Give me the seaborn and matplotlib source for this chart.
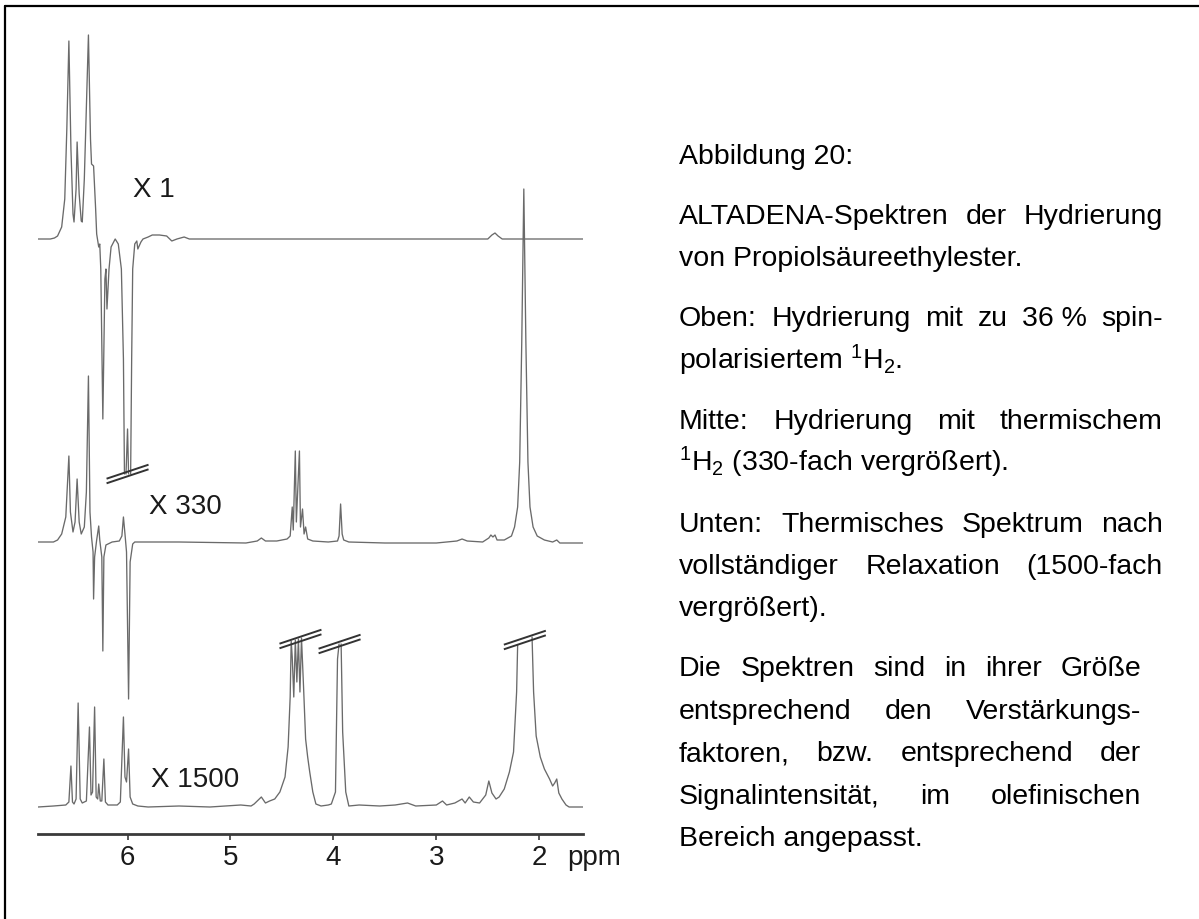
import numpy as np
import pandas as pd
import matplotlib
matplotlib.use("Agg")
import matplotlib.pyplot as plt
import seaborn as sns
from matplotlib.lines import Line2D

sns.set_theme(style="white")
plt.rcParams['font.family'] = ['Liberation Sans', 'DejaVu Sans']
plt.rcParams['mathtext.fontset'] = 'custom'
plt.rcParams['mathtext.rm'] = 'Liberation Sans'
plt.rcParams['mathtext.it'] = 'Liberation Sans:italic'

NAN = np.nan
# ---------------- data (ppm, intensity); NaN = trace cut off (break mark) -------------
top_ppm = [6.87, 6.75, 6.71, 6.68, 6.64, 6.61, 6.59, 6.57, 6.55, 6.53, 6.52, 6.50, 6.49, 6.47,
           6.45, 6.44, 6.42, 6.38, 6.36, 6.35, 6.33, 6.31, 6.30, 6.28, 6.27, 6.26, 6.24, 6.22,
           6.21, 6.20, 6.18, 6.16, 6.12, 6.09, 6.06, 6.04, 6.03, 6.02, 6.015, 6.00, 5.99,
           5.975, 5.97, 5.96, 5.95, 5.93, 5.91, 5.90, 5.87, 5.85, 5.80, 5.76, 5.69, 5.62, 5.57,
           5.52, 5.45, 5.40, 4.50, 3.50, 2.50, 2.46, 2.43, 2.40, 2.36, 1.57]
top_int = [0, 0, 1, 3, 12, 40, 110, 198, 90, 25, 17, 50, 97, 45,
           18, 17, 60, 204, 100, 75, 73, 30, 5, -8, -5, -30, -180, -40,
           -30, -70, -30, -8, 0, -5, -30, -120, -235, NAN, -235, -190, -235,
           NAN, -235, -120, -30, -5, -2, -10, -3, 0, 2, 4, 4, 3, -2,
           0, 2, 0, 0, 0, 0, 4, 6, 3, 0, 0]

mid_ppm = [6.87, 6.72, 6.68, 6.64, 6.60, 6.57, 6.555, 6.53, 6.51, 6.49, 6.47, 6.45, 6.42, 6.40,
           6.38, 6.365, 6.35, 6.335, 6.33, 6.32, 6.30, 6.28, 6.27, 6.25, 6.24, 6.23, 6.21, 6.15,
           6.08, 6.055, 6.04, 6.025, 6.01, 5.99, 5.975, 5.95, 5.93, 5.50, 4.85, 4.74, 4.70, 4.66,
           4.55, 4.45, 4.42, 4.40, 4.39, 4.37, 4.36, 4.33, 4.32, 4.30, 4.285, 4.27, 4.25, 4.20,
           4.05, 3.96, 3.945, 3.93, 3.915, 3.90, 3.85, 3.50, 3.00, 2.80, 2.75, 2.70, 2.55, 2.49,
           2.47, 2.45, 2.43, 2.41, 2.34, 2.27, 2.24, 2.21, 2.19, 2.17, 2.15, 2.13, 2.11, 2.09,
           2.06, 2.02, 1.95, 1.87, 1.83, 1.80, 1.57]
mid_int = [0, 0, 2, 8, 25, 86, 30, 10, 20, 63, 20, 8, 15, 50,
           166, 30, 5, -10, -57, -15, 2, 16, 2, -15, -109, -15, -3, 0,
           1, 6, 25, 8, -10, -157, -20, -2, 0, 0, -1, 1, 4, 1,
           1, 3, 6, 35, 12, 91, 20, 91, 15, 33, 8, 15, 3, 1,
           0, 1, 6, 38, 8, 2, 0, -1, -1, 1, 3, 1, 0, 4,
           7, 5, 7, 2, 2, 6, 15, 35, 80, 200, 353, 200, 80, 35,
           15, 6, 2, 0, 2, -1, -1]

bot_ppm = [6.87, 6.72, 6.60, 6.57, 6.55, 6.535, 6.52, 6.50, 6.48, 6.46, 6.44, 6.40, 6.37, 6.355,
           6.34, 6.32, 6.305, 6.29, 6.28, 6.265, 6.25, 6.23, 6.215, 6.19, 6.10, 6.07, 6.04, 6.025,
           6.01, 5.99, 5.975, 5.95, 5.90, 5.80, 5.50, 5.20, 4.90, 4.80, 4.77, 4.70, 4.66, 4.62,
           4.57, 4.52, 4.47, 4.44, 4.42, 4.41, 4.40, 4.385, 4.37, 4.355, 4.34, 4.325, 4.31, 4.29,
           4.27, 4.25, 4.23, 4.20, 4.17, 4.12, 4.05, 4.02, 3.98, 3.96, 3.945, 3.935, 3.925, 3.91,
           3.88, 3.85, 3.75, 3.55, 3.40, 3.28, 3.20, 3.00, 2.94, 2.90, 2.82, 2.75, 2.72, 2.68,
           2.64, 2.58, 2.52, 2.49, 2.46, 2.42, 2.39, 2.34, 2.29, 2.25, 2.22, 2.21, 2.14, 2.07,
           2.055, 2.03, 1.99, 1.95, 1.90, 1.87, 1.85, 1.83, 1.81, 1.78, 1.74, 1.71, 1.57]
bot_int = [0, 1, 2, 5, 41, 5, 3, 8, 104, 8, 4, 6, 80, 12,
           15, 100, 10, 8, 23, 6, 6, 48, 5, 2, 2, 5, 90, 30,
           25, 58, 10, 3, 1, 0, 1, 0, 2, 1, 3, 10, 4, 6,
           8, 15, 30, 60, 110, 166, 150, 110, 167, 125, 168, 115, 169, 120,
           68, 50, 35, 15, 3, 1, 2, 3, 15, 148, 163, NAN, 163, 75,
           15, 1, 2, 1, 2, 4, 1, 2, 6, 2, 4, 8, 4, 10,
           5, 4, 12, 26, 14, 8, 10, 18, 35, 55, 115, 162, NAN, 170,
           115, 71, 50, 38, 28, 21, 24, 28, 14, 8, 2, 0, 0]

scale_labels = ["X 1", "X 330", "X 1500"]
tick_values = [6, 5, 4, 3, 2]
tick_labels = ["6", "5", "4", "3", "2"]
unit_label = "ppm"
# cut-off (break mark) positions: (spectrum index, ppm, intensity level)
cut_spec = [0, 2, 2, 2]
cut_ppm = [6.00, 4.32, 3.94, 2.14]
cut_level = [-235, 168, 163, 167]

caption_lines = [
    "Abbildung 20:",
    "ALTADENA-Spektren der Hydrierung",
    "von Propiolsäureethylester.",
    "Oben: Hydrierung mit zu 36\u00a0% spin-",
    "polarisiertem $^{1}$H$_{2}$.",
    "Mitte: Hydrierung mit thermischem",
    "$^{1}$H$_{2}$ (330-fach vergrößert).",
    "Unten: Thermisches Spektrum nach",
    "vollständiger Relaxation (1500-fach",
    "vergrößert).",
    "Die Spektren sind in ihrer Größe",
    "entsprechend den Verstärkungs-",
    "faktoren, bzw. entsprechend der",
    "Signalintensität, im olefinischen",
    "Bereich angepasst.",
]
caption_justify = [False, True, False, True, False, True, False, True, True, False,
                   True, True, True, True, False]
caption_para = [0, 1, 1, 2, 2, 3, 3, 4, 4, 4, 5, 5, 5, 5, 5]

# ---------------- layout ----------------
W, H = 1199, 920
fig = plt.figure(figsize=(W / 100, H / 100), dpi=100)
fig.patch.set_facecolor("white")

ax_l, ax_r, ax_b, ax_t = 38, 583, 835, 20
ax = fig.add_axes([ax_l / W, 1 - ax_b / H, (ax_r - ax_l) / W, (ax_b - ax_t) / H])
ax.set_facecolor("none")
baselines = [595, 292, 27]
line_col = "#6a6a6a"

for ppm, inten, base in zip([top_ppm, mid_ppm, bot_ppm], [top_int, mid_int, bot_int], baselines):
    df = pd.DataFrame({"ppm": ppm, "I": inten})
    df["seg"] = df["I"].isna().cumsum()
    df = df.dropna()
    df["y"] = df["I"] + base
    sns.lineplot(data=df, x="ppm", y="y", units="seg", estimator=None, sort=False,
                 color=line_col, lw=0.95, ax=ax, legend=False)

# break marks
half_dx = 21 / 103.0
half_dy = 7
sep = 2.3
for s, p, lev in zip(cut_spec, cut_ppm, cut_level):
    y0 = baselines[s] + lev
    for o in (-sep, sep):
        ax.plot([p + half_dx, p - half_dx], [y0 - half_dy + o, y0 + half_dy + o],
                color="#333333", lw=1.4, solid_capstyle="butt")

# scale labels
lab_ppm = [5.95, 5.79, 5.77]
lab_y = [645, 328, 55]
for t, px, py in zip(scale_labels, lab_ppm, lab_y):
    ax.text(px, py, t, fontsize=20, ha="left", va="center", color="#1a1a1a")

ax.set_xlim(6.87, 1.575)
ax.set_ylim(0, ax_b - ax_t)
for sp in ["left", "right", "top"]:
    ax.spines[sp].set_visible(False)
ax.spines["bottom"].set_color("#3a3a3a")
ax.spines["bottom"].set_linewidth(2.0)
ax.set_yticks([])
ax.set_xticks(tick_values)
ax.set_xticklabels(tick_labels)
ax.tick_params(axis="x", direction="out", length=4, width=1.2, color="#3a3a3a",
               pad=3, labelsize=20, labelcolor="#1a1a1a", bottom=True)
ax.set_xlabel("")
ax.set_ylabel("")
ax.annotate(unit_label, xy=(1.73, 0), xycoords="data", xytext=(0, -7),
            textcoords="offset points", ha="left", va="top", fontsize=20, color="#1a1a1a",
            annotation_clip=False)

# border (top and left edges visible)
fig.add_artist(Line2D([5 / W, 5 / W], [0, 1 - 7 / H], transform=fig.transFigure,
                      color="black", lw=1.6))
fig.add_artist(Line2D([5 / W, 1], [1 - 7 / H, 1 - 7 / H], transform=fig.transFigure,
                      color="black", lw=1.6))

# caption (justified)
renderer = fig.canvas.get_renderer()
cap_x0 = 679
cap_x1_main = 1163
cap_x1_last = 1141
y_first = 155
line_step = 42.5
para_extra = 17.5
fs = 20.5
for i, (txt, just, para) in enumerate(zip(caption_lines, caption_justify, caption_para)):
    yc = y_first + i * line_step + para * para_extra
    yb = 1 - (yc + 9) / H
    x1 = cap_x1_last if para == 5 else cap_x1_main
    words = txt.split(" ")
    if not just or len(words) == 1:
        fig.text(cap_x0 / W, yb, txt, fontsize=fs, ha="left", va="baseline", color="black")
        continue
    arts, widths = [], []
    for w in words:
        t = fig.text(0, yb, w, fontsize=fs, ha="left", va="baseline", color="black")
        arts.append(t)
        widths.append(t.get_window_extent(renderer).width)
    gap = (x1 - cap_x0 - sum(widths)) / (len(words) - 1)
    x = cap_x0
    for t, wd in zip(arts, widths):
        t.set_x(x / W)
        x += wd + gap

fig.savefig("out.png", dpi=100, facecolor="white")
